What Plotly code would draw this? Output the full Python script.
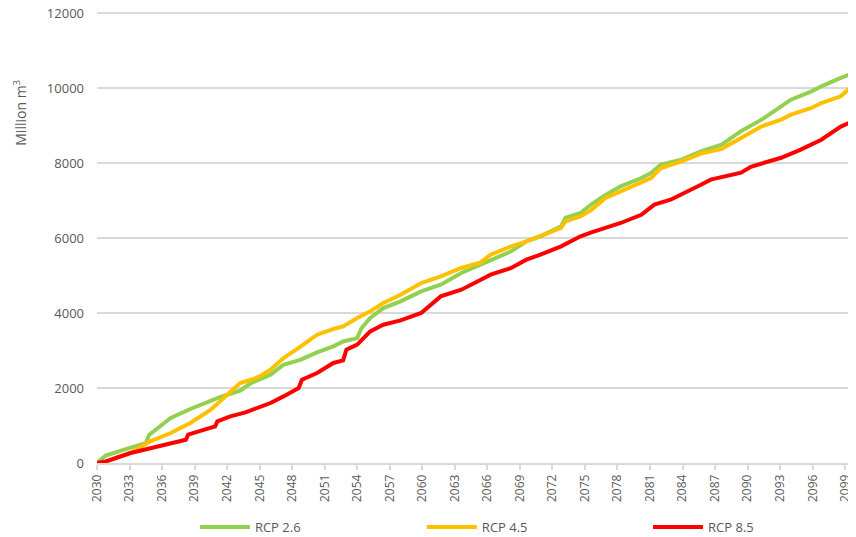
import plotly.graph_objects as go

# ---- data ----
years_rcp26 = [2030.0, 2030.4, 2030.8, 2033.1, 2034.5, 2034.8, 2036.8, 2038.6, 2041.4, 2043.2, 2044.2, 2045.0,
               2046.0, 2047.2, 2048.8, 2050.3, 2051.8, 2052.7, 2054.0, 2054.4, 2055.2, 2056.4, 2058.0, 2059.9,
               2061.7, 2063.6, 2065.4, 2066.3, 2068.2, 2069.6, 2070.9, 2072.8, 2073.2, 2074.6, 2075.6, 2076.9,
               2078.3, 2080.2, 2081.1, 2082.0, 2083.9, 2085.7, 2087.6, 2089.4, 2091.3, 2093.1, 2094.0, 2095.9,
               2096.8, 2098.6, 2100.0]
rcp26 = [0, 100, 200, 410, 530, 750, 1200, 1440, 1760, 1930, 2130, 2230,
         2355, 2620, 2755, 2950, 3110, 3240, 3330, 3600, 3870, 4130, 4310, 4577,
         4755, 5067, 5290, 5380, 5644, 5910, 6044, 6310, 6534, 6667, 6900, 7150,
         7378, 7600, 7734, 7955, 8089, 8311, 8489, 8850, 9156, 9511, 9689, 9911,
         10045, 10268, 10430]

years_rcp45 = [2030.0, 2030.8, 2033.1, 2034.9, 2036.8, 2038.6, 2040.5, 2041.9, 2043.2, 2044.2, 2045.0,
               2046.0, 2047.2, 2048.8, 2050.3, 2051.8, 2052.7, 2054.0, 2055.2, 2056.4, 2058.0, 2059.9,
               2061.7, 2063.6, 2065.4, 2066.3, 2068.2, 2069.6, 2070.9, 2072.8, 2073.2, 2074.6, 2075.6,
               2076.9, 2078.3, 2080.2, 2081.1, 2082.0, 2083.9, 2085.7, 2087.6, 2089.4, 2091.3, 2093.1,
               2094.0, 2095.9, 2096.8, 2098.6, 2100.0]
rcp45 = [0, 30, 275, 576, 800, 1067, 1421, 1776, 2133, 2220, 2310,
         2488, 2800, 3110, 3422, 3573, 3643, 3867, 4043, 4267, 4488, 4800,
         4977, 5200, 5350, 5555, 5777, 5910, 6062, 6267, 6444, 6577, 6750,
         7067, 7244, 7484, 7600, 7867, 8045, 8249, 8374, 8667, 8978, 9156,
         9289, 9467, 9600, 9778, 10150]

years_rcp85 = [2030.0, 2030.8, 2033.1, 2034.9, 2036.8, 2038.2, 2038.4, 2039.5, 2040.9, 2041.1, 2042.3,
               2043.7, 2044.9, 2046.0, 2047.2, 2048.6, 2048.9, 2050.3, 2051.8, 2052.7, 2053.0, 2054.0,
               2055.2, 2056.4, 2058.0, 2059.9, 2061.7, 2063.6, 2065.4, 2066.3, 2068.2, 2069.6, 2070.9,
               2072.8, 2074.6, 2075.6, 2078.3, 2080.2, 2081.4, 2082.9, 2085.7, 2086.6, 2089.4, 2090.3,
               2093.1, 2094.9, 2096.8, 2098.6, 2100.0]
rcp85 = [0, 40, 267, 400, 533, 621, 755, 843, 976, 1110, 1243,
         1350, 1467, 1600, 1776, 2000, 2221, 2400, 2667, 2737, 3022, 3155,
         3510, 3688, 3803, 4000, 4443, 4622, 4888, 5022, 5200, 5422, 5555,
         5777, 6044, 6150, 6400, 6620, 6890, 7020, 7420, 7556, 7740, 7900,
         8140, 8356, 8620, 8970, 9150]

tick_years = list(range(2030, 2100, 3))
tick_labels = [str(y) for y in tick_years]
y_ticks = [0, 2000, 4000, 6000, 8000, 10000, 12000]
y_labels = [str(v) for v in y_ticks]

series = [
    ("RCP 2.6", years_rcp26, rcp26, "#92D050", "legend", 0.129),
    ("RCP 4.5", years_rcp45, rcp45, "#FFC000", "legend2", 0.428),
    ("RCP 8.5", years_rcp85, rcp85, "#FF0000", "legend3", 0.726),
]

font_family = "Open Sans, Liberation Sans, sans-serif"
grey = "#595959"
grid = "#d9d9d9"

fig = go.Figure()
legends = {}
for name, xs, ys, col, leg, lx in series:
    fig.add_trace(go.Scatter(x=xs, y=ys, mode="lines", name=name, legend=leg,
                             line=dict(color=col, width=4)))
    legends[leg] = dict(orientation="h", x=lx, xanchor="left", y=-0.1416, yanchor="middle",
                        itemwidth=50, font=dict(size=13, color=grey), bgcolor="rgba(0,0,0,0)")

# page body has an 8px margin, so the figure is sized/placed to land on the 856x537 window
fig.update_layout(
    width=848, height=529,
    margin=dict(l=89, r=0, t=3, b=74, autoexpand=False),
    paper_bgcolor="white", plot_bgcolor="white",
    font=dict(family=font_family, color=grey),
    showlegend=True,
    xaxis=dict(range=[2030, 2100], tickmode="array", tickvals=tick_years, ticktext=tick_labels,
               tickangle=-90, tickfont=dict(size=12, color=grey), automargin=False,
               ticklabeloverflow="allow",
               showgrid=False, showline=True, linecolor=grid, linewidth=1.5,
               ticks="outside", ticklen=5, tickcolor=grid, tickwidth=1.5, zeroline=False),
    yaxis=dict(range=[0, 12053], tickmode="array", tickvals=y_ticks, ticktext=y_labels,
               tickfont=dict(size=13, color=grey), showgrid=True, gridcolor=grid, gridwidth=1.5,
               ticklabeloverflow="allow",
               zeroline=False, showline=False, ticks="", ticklabelstandoff=12, automargin=False),
    annotations=[dict(text="Million m<sup>3</sup>", xref="paper", yref="y", x=0, y=9340,
                      xshift=-77, xanchor="center", yanchor="middle", textangle=-90,
                      showarrow=False, font=dict(size=14, color=grey))],
    **legends,
)

fig.write_html("out.html")
